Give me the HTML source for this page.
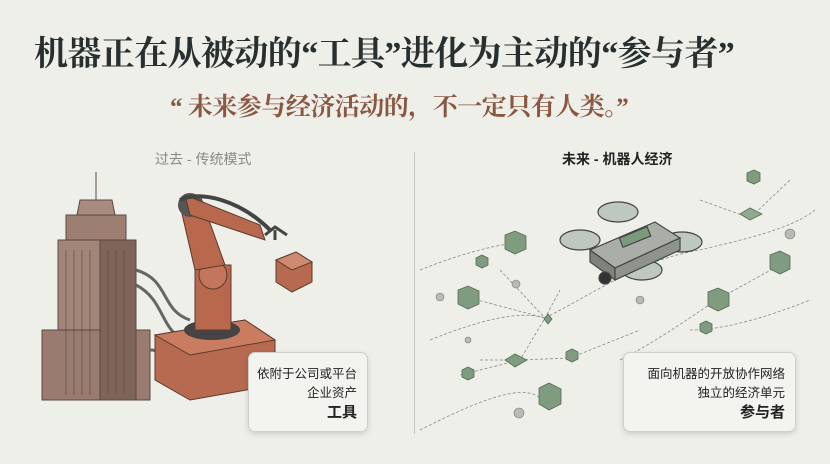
<!DOCTYPE html>
<html><head><meta charset="utf-8"><style>
html,body{margin:0;padding:0}
body{width:830px;height:464px;background:#efefea;position:relative;overflow:hidden;font-family:"Liberation Serif","Noto Serif CJK SC",serif}
.t{position:absolute;white-space:nowrap}
.box{position:absolute;background:#f3f3ef;border:1px solid #cfd0cb;border-radius:7px;box-shadow:0 2px 6px rgba(0,0,0,.15);text-align:right;font-family:"Liberation Sans","Noto Sans CJK SC",sans-serif;color:#222;box-sizing:border-box}
</style></head><body>
<div class="t" style="left:34px;top:26px;font-size:34px;font-weight:bold;color:#27302f;letter-spacing:-0.6px">机器正在从被动的“工具”进化为主动的“参与者”</div>
<div class="t" style="left:170px;top:87px;font-size:25px;font-weight:bold;color:#8a5740;letter-spacing:-0.5px">“ 未来参与经济活动的，不一定只有人类。”</div>
<div class="t" style="left:155px;top:149px;font-size:14px;color:#888;font-family:'Liberation Sans','Noto Sans CJK SC',sans-serif">过去 - 传统模式</div>
<div class="t" style="left:562px;top:149px;font-size:14px;font-weight:bold;color:#222;font-family:'Liberation Sans','Noto Sans CJK SC',sans-serif">未来 - 机器人经济</div>
<div style="position:absolute;left:414px;top:152px;width:1px;height:282px;background:#c8c8c2"></div>
<svg style="position:absolute;left:0;top:0" width="830" height="464">
<g stroke="#5a4a42" stroke-width="1">
<line x1="96" y1="172" x2="96" y2="200"/>
<polygon points="80,200 112,200 115,215 77,215" fill="#a88a7e"/>
<polygon points="66,215 126,215 126,240 66,240" fill="#9d7e72"/>
<polygon points="58,240 136,240 136,330 58,330" fill="#a38478"/>
<polygon points="42,330 150,330 150,400 42,400" fill="#9a7b70"/>
<polygon points="100,240 136,240 136,400 100,400" fill="#7f645a"/>
</g>
<g stroke="#5a4a42" stroke-width="0.6">
<line x1="66" y1="250" x2="66" y2="395"/><line x1="74" y1="250" x2="74" y2="395"/><line x1="82" y1="250" x2="82" y2="395"/><line x1="90" y1="250" x2="90" y2="395"/>
<line x1="108" y1="250" x2="108" y2="395"/><line x1="116" y1="250" x2="116" y2="395"/><line x1="124" y1="250" x2="124" y2="395"/>
</g>
<g fill="none" stroke="#666" stroke-width="3">
<path d="M136,270 C170,280 160,310 190,320"/><path d="M136,285 C165,300 160,330 185,340"/><path d="M150,350 C175,350 170,380 175,390"/>
</g>
<polygon points="155,335 245,320 275,340 275,385 190,400 155,380" fill="#b86a50" stroke="#5a3b30"/>
<polygon points="155,335 245,320 275,340 190,355" fill="#c97c60" stroke="#5a3b30"/>
<ellipse cx="212" cy="330" rx="28" ry="10" fill="#444"/>
<rect x="195" y="265" width="36" height="65" fill="#b8694d" stroke="#5a3b30"/>
<circle cx="213" cy="275" r="14" fill="#c4765a" stroke="#5a3b30"/>
<polygon points="195,270 180,205 200,195 225,265" fill="#b8694d" stroke="#5a3b30"/>
<circle cx="190" cy="205" r="12" fill="#555"/>
<polygon points="185,195 260,225 265,240 190,215" fill="#b8694d" stroke="#5a3b30"/>
<path d="M180,200 C200,190 240,200 270,230" stroke="#444" stroke-width="4" fill="none"/>
<path d="M265,235 l10,-8 l12,8 M275,230 l0,10" stroke="#444" stroke-width="3" fill="none"/>
<polygon points="276,260 296,252 312,262 312,282 292,292 276,282" fill="#b86a50" stroke="#5a3b30"/>
<polygon points="276,260 296,252 312,262 292,270" fill="#cf8a70" stroke="#5a3b30"/>
<g stroke="#888" stroke-width="0.8" stroke-dasharray="3,2" fill="none">
<path d="M420,270 C470,250 500,245 515,243"/><path d="M430,340 C480,320 520,310 545,318"/>
<path d="M470,298 L545,318 L520,360 L460,375"/><path d="M520,360 L570,358 L640,330"/>
<path d="M545,318 C600,290 640,260 700,250 C740,240 790,230 815,210"/>
<path d="M420,430 C460,410 520,380 540,398"/><path d="M480,360 L520,360"/>
<path d="M620,360 C660,340 700,310 720,298 L780,265"/><path d="M700,200 L750,218 L790,180"/>
<path d="M690,330 C720,330 760,320 810,300"/><path d="M500,270 L545,318 L560,290"/>
</g>
<g fill="#7f9b80" stroke="#556b56" stroke-width="0.8">
<polygon points="505,235 515,231 526,236 526,249 515,254 505,249"/>
<polygon points="458,290 468,286 479,291 479,304 468,309 458,304"/>
<polygon points="708,292 718,288 729,293 729,306 718,311 708,306"/>
<polygon points="770,255 780,251 790,256 790,269 780,274 770,269"/>
<polygon points="539,388 549,383 561,389 561,404 549,410 539,404"/>
<polygon points="548,314 544,319 548,324 552,319" />
<polygon points="462,370 468,367 474,370 474,377 468,380 462,377"/>
<polygon points="566,352 572,349 578,352 578,359 572,362 566,359"/>
<polygon points="476,258 482,255 488,258 488,265 482,268 476,265"/>
<polygon points="747,173 754,170 760,173 760,181 754,184 747,181"/>
<polygon points="700,324 706,321 712,324 712,331 706,334 700,331"/>
<polygon points="740,214 750,208 762,214 750,220" fill="#8fa88f"/>
<polygon points="505,360 515,354 527,360 515,367"/>
</g>
<g fill="#b8bab6" stroke="#777" stroke-width="0.6">
<circle cx="440" cy="297" r="4"/><circle cx="516" cy="284" r="4"/><circle cx="790" cy="234" r="5"/><circle cx="519" cy="413" r="5"/><circle cx="640" cy="300" r="4"/><circle cx="468" cy="340" r="3"/>
</g>
<g stroke="#444" stroke-width="1.2">
<ellipse cx="618" cy="212" rx="20" ry="10" fill="#bfc8be"/>
<ellipse cx="580" cy="240" rx="20" ry="10" fill="#bfc8be"/>
<ellipse cx="682" cy="242" rx="20" ry="10" fill="#bfc8be"/>
<ellipse cx="642" cy="270" rx="20" ry="10" fill="#bfc8be"/>
<polygon points="590,250 655,222 680,238 615,268" fill="#a9aea7"/>
<polygon points="590,250 615,268 615,280 590,262" fill="#7d827c"/>
<polygon points="615,268 680,238 680,250 615,280" fill="#8e938d"/>
<rect x="620" y="232" width="30" height="10" fill="#7b9a7b" transform="rotate(-22 635 237)"/>
<circle cx="605" cy="278" r="6" fill="#333"/>
</g>
</svg>
<div class="box" style="left:248px;top:352px;width:120px;height:80px;padding:12px 10px 0 0;font-size:12.5px;line-height:19px">依附于公司或平台<br>企业资产<br><b style="font-size:15px">工具</b></div>
<div class="box" style="left:623px;top:352px;width:173px;height:80px;padding:12px 10px 0 0;font-size:12.5px;line-height:19px">面向机器的开放协作网络<br>独立的经济单元<br><b style="font-size:15px">参与者</b></div>
</body></html>
